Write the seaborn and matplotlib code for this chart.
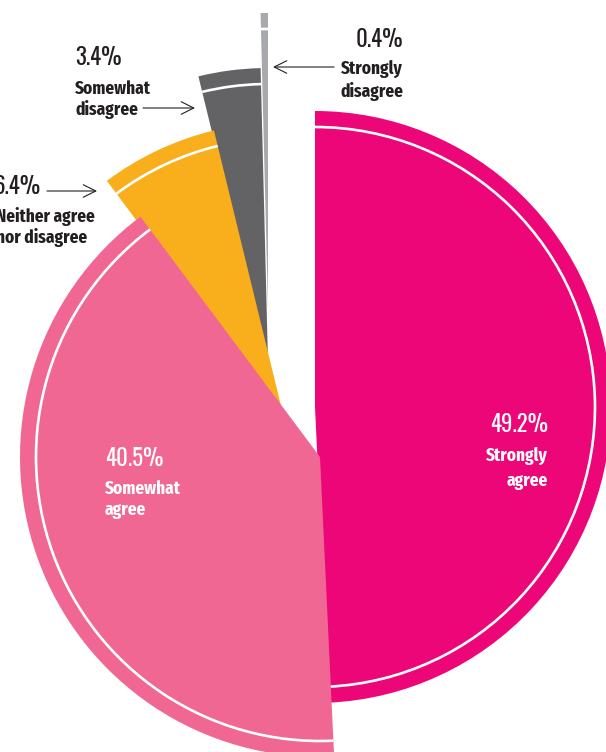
import matplotlib
matplotlib.use("Agg")
import matplotlib.pyplot as plt
from matplotlib import font_manager as fm
from matplotlib.patches import Arc
import seaborn as sns

# Survey responses (share of respondents, %)
categories = ["Strongly agree", "Somewhat agree", "Neither agree nor disagree",
              "Somewhat disagree", "Strongly disagree"]
values = [49.2, 40.5, 6.4, 3.4, 0.4]
label_lines = [["Strongly", "agree"], ["Somewhat", "agree"],
               ["Neither agree", "nor disagree"], ["Somewhat", "disagree"],
               ["Strongly", "disagree"]]
pct_labels = [f"{v}%" for v in values]

colors = ["#EC0677", "#F06793", "#F9AE1B", "#636366", "#A7A9AC"]

sns.set_theme(style="white")

# condensed faces: a light one for the percentages, a bold one for captions
preferred = ["Oswald", "Fira Sans Extra Condensed", "Sofia Sans Extra Condensed",
             "Roboto Condensed", "Barlow Condensed", "Encode Sans Condensed"]
weights = {}
for f in fm.fontManager.ttflist:
    w = f.weight if isinstance(f.weight, int) else 400
    weights.setdefault(f.name, set()).add(w)


def pick(test):
    return next((n for n in preferred if n in weights and test(weights[n])),
                "DejaVu Sans")


pct_face = pick(lambda ws: min(ws) <= 400)
cap_face = pick(lambda ws: max(ws) >= 600)
plt.rcParams["font.family"] = [pct_face, "DejaVu Sans"]

W, H = 606, 752
fig = plt.figure(figsize=(W / 100, H / 100), dpi=100)
ax = fig.add_axes([0, 0, 1, 1])

# each wedge sits on its own pivot (canvas px, y measured from top) and radius
pivots = [(315, 407), (320, 457), (284, 418), (268, 362), (268, 309)]
radii = [296, 300, 296, 294, 296]
layers = [1, 4, 3, 2, 2]
ring_gap = 16

wedges, _ = ax.pie(values, colors=colors, startangle=90, counterclock=False,
                   radius=296, center=(W / 2, H / 2),
                   wedgeprops=dict(linewidth=0, antialiased=True))

for w, (px, py), r, z in zip(wedges, pivots, radii, layers):
    c = (px, H - py)
    w.set_center(c)
    w.set_radius(r)
    w.set_zorder(z)
    ring = Arc(c, 2 * (r - ring_gap), 2 * (r - ring_gap),
               theta1=w.theta1, theta2=w.theta2,
               color="white", lw=1.9, zorder=z + 0.5)
    ax.add_patch(ring)

ax.set_xlim(0, W)
ax.set_ylim(0, H)
ax.set_aspect("equal")
ax.axis("off")

renderer = fig.canvas.get_renderer()


def fitted_size(sample, width_px, face, weight):
    """Font size (pt) at which `sample` spans `width_px` pixels."""
    t = ax.text(0, 0, sample, fontsize=20, family=[face, "DejaVu Sans"],
                fontweight=weight)
    w = t.get_window_extent(renderer=renderer).width
    t.remove()
    return 20 * width_px / w


pct_weight, cap_weight = 300, 700
pct_size = min(fitted_size("49.2%", 58, pct_face, pct_weight), 25)
cap_size = min(fitted_size("Somewhat", 76, cap_face, cap_weight), 16.5)

dark = "#231F20"


def label(x, pct, words, ha, color, baselines, pct_x=None, pct_ha=None):
    """Percentage line plus a two-line caption; baselines in px from top."""
    ax.text(x if pct_x is None else pct_x, H - baselines[0], pct,
            ha=pct_ha or ha, va="baseline", fontsize=pct_size,
            family=[pct_face, "DejaVu Sans"], fontweight=pct_weight,
            color=color, zorder=10)
    for line, b in zip(words, baselines[1:]):
        ax.text(x, H - b, line, ha=ha, va="baseline", fontsize=cap_size,
                family=[cap_face, "DejaVu Sans"], fontweight=cap_weight,
                color=color, zorder=10)


# inside the two large wedges
label(548, pct_labels[0], label_lines[0], "right", "white", (432, 462, 486))
label(105, pct_labels[1], label_lines[1], "left", "white", (466, 494, 515))

# outside callouts
label(403, pct_labels[4], label_lines[4], "right", dark, (47, 75, 97))
label(75, pct_labels[3], label_lines[3], "left", dark, (65, 94, 115))
label(-4, pct_labels[2], label_lines[2], "left", dark, (194, 222, 243),
      pct_x=41, pct_ha="right")

arrow = dict(arrowstyle="->,head_length=0.6,head_width=0.3", color=dark,
             lw=0.8, mutation_scale=15, shrinkA=0, shrinkB=0)
for (x0, y0), (x1, y1) in [((334, 67), (273, 67)),
                           ((143, 108), (195, 108)),
                           ((47, 191), (97, 191))]:
    ax.annotate("", xy=(x1, H - y1), xytext=(x0, H - y0),
                arrowprops=arrow, zorder=10)

fig.savefig("out.png", dpi=100, facecolor="white")
